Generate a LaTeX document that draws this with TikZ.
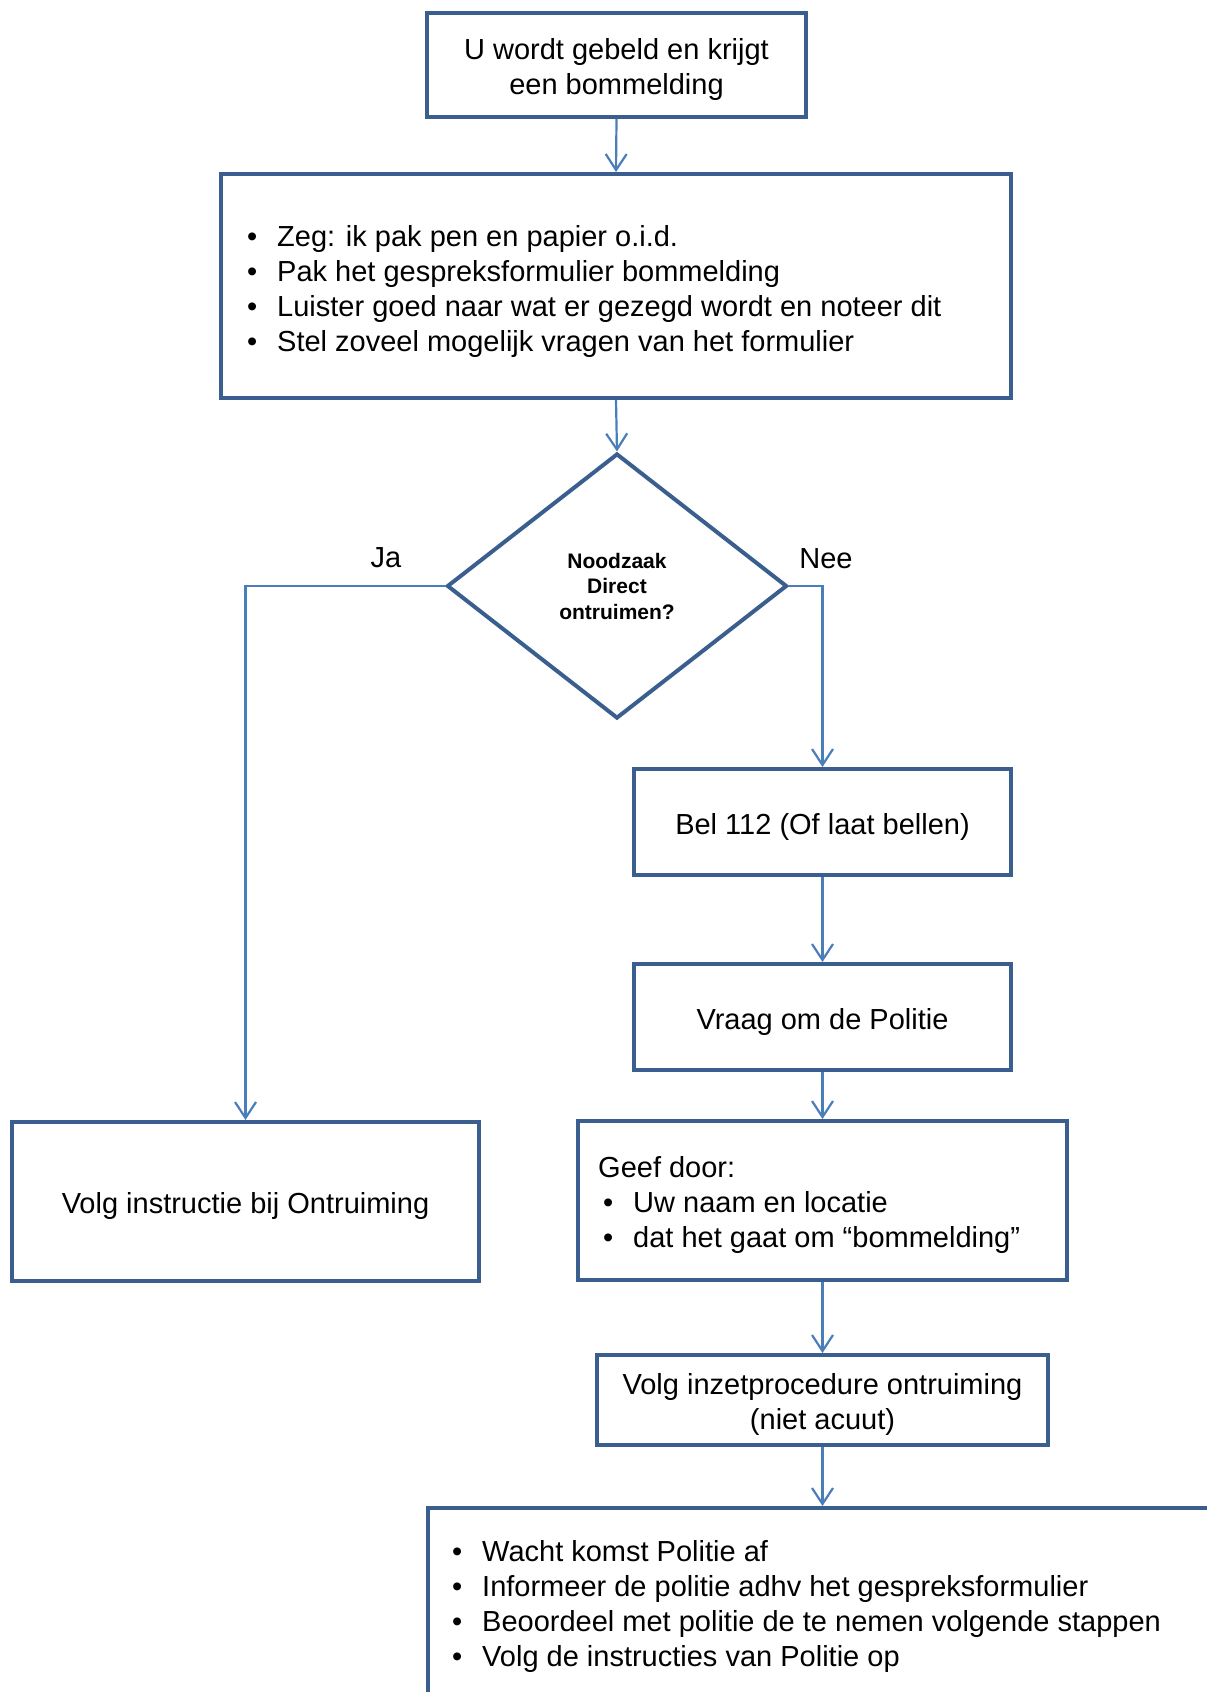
\documentclass[tikz,border=0pt]{standalone}
\usepackage{fontspec}
\setmainfont{Liberation Sans}
\usetikzlibrary{arrows.meta,shapes.geometric}
\definecolor{boxblue}{HTML}{3A5F8F}
\definecolor{linkblue}{HTML}{4A7EBB}
\tikzset{
  box/.style={draw=boxblue, line width=4pt, fill=white, rectangle, inner sep=0pt},
  dec/.style={draw=boxblue, line width=4pt, fill=white, diamond, inner sep=0pt, align=center, font=\fontsize{21}{25.5}\selectfont\bfseries},
  ctxt/.style={inner sep=0pt, align=center, yshift=-4.5pt, font=\fontsize{29}{35}\selectfont},
  txt/.style={inner sep=0pt, align=left, anchor=west, font=\fontsize{29}{35}\selectfont},
  lbl/.style={inner sep=0pt, font=\fontsize{29}{35}\selectfont},
  link/.style={draw=linkblue, line width=2.2pt, -{Straight Barb[length=16pt,width=21pt]}},
}
\newcommand{\bul}{\makebox[30pt][l]{\textbullet}}
\begin{document}
\begin{tikzpicture}[x=1pt,y=-1pt]
\useasboundingbox (0,0) rectangle (1207,1692);
\clip (0,0) rectangle (1207,1692);
\node[box, minimum width=379pt, minimum height=104pt] (top) at (616.5,65) {};
\node[ctxt] (topt) at (top.center) {U wordt gebeld en krijgt\\een bommelding};
\node[box, minimum width=790pt, minimum height=224pt] (b2) at (616,286) {};
\node[txt] (b2t) at (247,291) {\bul Zeg: ik pak pen en papier o.i.d.\\\bul Pak het gespreksformulier bommelding\\\bul Luister goed naar wat er gezegd wordt en noteer dit\\\bul Stel zoveel mogelijk vragen van het formulier};
\node[dec, minimum width=340pt, minimum height=265pt] (dia) at (617,586) {Noodzaak\\Direct\\ontruimen?};
\node[box, minimum width=377pt, minimum height=106pt] (bel) at (822.5,822) {};
\node[ctxt] (belt) at (bel.center) {Bel 112 (Of laat bellen)};
\node[box, minimum width=377pt, minimum height=106pt] (vraag) at (822.5,1017) {};
\node[ctxt] (vraagt) at (vraag.center) {Vraag om de Politie};
\node[box, minimum width=489pt, minimum height=159pt] (geef) at (822.5,1200.5) {};
\node[txt] (geeft) at (598,1205) {Geef door:\\\hspace*{5pt}\bul Uw naam en locatie\\\hspace*{5pt}\bul dat het gaat om “bommelding”};
\node[box, minimum width=451pt, minimum height=90pt] (inz) at (822.5,1400) {};
\node[ctxt] (inzt) at (inz.center) {Volg inzetprocedure ontruiming\\(niet acuut)};
\node[box, minimum width=467pt, minimum height=159pt] (volg) at (245.5,1201.5) {};
\node[ctxt] (volgt) at (volg.center) {Volg instructie bij Ontruiming};
\draw[draw=boxblue, line width=4pt] (1300,1508) -- (428,1508) -- (428,1800);
\coordinate (lastin) at (822.5,1506);
\node[txt] (lastt) at (452,1606) {\bul Wacht komst Politie af\\\bul Informeer de politie adhv het gespreksformulier\\\bul Beoordeel met politie de te nemen volgende stappen\\\bul Volg de instructies van Politie op};
\node[lbl] (ja) at (386,558) {Ja};
\node[lbl] (nee) at (826,559) {Nee};
\draw[link] (top.south) -- (b2.north);
\draw[link] (b2.south) -- (dia.north);
\draw[link] (dia.west) -| (volg.north);
\draw[link] (dia.east) -| (bel.north);
\draw[link] (bel.south) -- (vraag.north);
\draw[link] (vraag.south) -- (geef.north);
\draw[link] (geef.south) -- (inz.north);
\draw[link] (inz.south) -- (lastin);
\end{tikzpicture}
\end{document}
